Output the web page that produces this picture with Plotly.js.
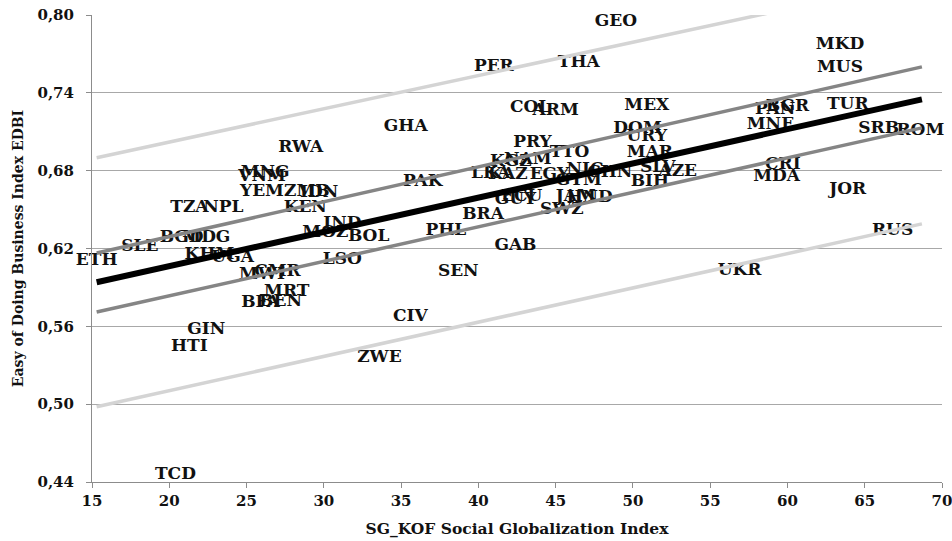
<!DOCTYPE html>
<html>
<head>
<meta charset="utf-8">
<script src="https://cdn.plot.ly/plotly-3.0.1.min.js"></script>
<style>html,body{margin:0;padding:0;background:#fff;}#chart{width:952px;height:541px;}</style>
</head>
<body>
<div id="chart"></div>
<script>
// Country labels (ISO codes) with SG_KOF social globalization (x) and EDBI (y)
const countries = ["GEO","MKD","MUS","PER","THA","COL","ARM","MEX","BGR","PAN","TUR","MNE","DOM","URY","SRB","ROM","GHA","RWA","PRY","MAR","TTO","NAM","KGZ","MNG","VNM","CRI","SLV","AZE","MDA","LKA","KAZ","PAK","EGY","GTM","NIC","CHN","BIH","YEM","ZMB","IDN","KEN","TZA","NPL","GUY","ECU","JAM","HND","SWZ","BRA","IND","MOZ","BOL","PHL","GAB","SEN","LSO","CIV","ZWE","BGD","MDG","SLE","ETH","KHM","UGA","MWI","CMR","MRT","BFA","BEN","GIN","HTI","TCD","UKR","RUS","JOR"];
const socialGlob = [48.9,63.4,63.4,41.0,46.5,43.35,45.0,50.9,60.0,59.2,63.9,58.9,50.3,50.9,65.9,68.6,35.3,28.5,43.5,51.1,45.9,43.2,42.1,26.2,26.0,59.7,51.6,52.9,59.3,40.8,41.9,36.4,44.6,46.5,46.9,48.5,51.1,26.0,28.9,29.7,28.8,21.3,23.5,42.4,42.8,46.3,47.2,45.4,40.3,31.2,30.1,32.9,37.9,42.4,38.7,31.2,35.6,33.6,20.8,22.4,18.1,15.3,22.6,24.1,26.0,27.0,27.6,25.9,27.2,22.4,21.3,20.4,56.9,66.8,63.9];
const edbi = [0.7946,0.7769,0.7591,0.7599,0.763,0.7283,0.726,0.7298,0.729,0.7268,0.7306,0.7152,0.7121,0.706,0.7121,0.7106,0.7136,0.6975,0.7013,0.6936,0.6936,0.6882,0.6867,0.6782,0.6751,0.6843,0.682,0.679,0.675,0.678,0.677,0.6712,0.6766,0.672,0.6805,0.6782,0.6712,0.6635,0.6635,0.6627,0.6512,0.6512,0.6512,0.6574,0.6597,0.6597,0.659,0.6497,0.6458,0.6389,0.6319,0.6288,0.6335,0.6219,0.6018,0.6111,0.5672,0.5355,0.628,0.628,0.6211,0.6103,0.615,0.6127,0.5995,0.6018,0.5864,0.578,0.5787,0.5571,0.544,0.4453,0.6026,0.6335,0.665];

// Regression line and bands (end points)
const lineX = [15.3, 68.7];
const fitY = [0.594, 0.735];
const confUpperY = [0.6165, 0.760];
const confLowerY = [0.571, 0.713];
const predUpperY = [0.690, 0.827];
const predLowerY = [0.498, 0.639];

const xTicks = [15,20,25,30,35,40,45,50,55,60,65,70];
const yTicks = [0.44,0.50,0.56,0.62,0.68,0.74,0.80];

const FONT = "DejaVu Serif, Liberation Serif, serif";

const traces = [
  {x: socialGlob, y: edbi, text: countries, mode: "text", type: "scatter",
   textposition: "middle center", cliponaxis: false,
   textfont: {family: FONT, size: 17, color: "#111", weight: "bold"}, hoverinfo: "text"},
  {x: lineX, y: predUpperY, mode: "lines", type: "scatter", line: {color: "#d4d4d4", width: 3.5}, hoverinfo: "skip"},
  {x: lineX, y: predLowerY, mode: "lines", type: "scatter", line: {color: "#d4d4d4", width: 3.5}, hoverinfo: "skip"},
  {x: lineX, y: confUpperY, mode: "lines", type: "scatter", line: {color: "#858585", width: 3.5}, hoverinfo: "skip"},
  {x: lineX, y: confLowerY, mode: "lines", type: "scatter", line: {color: "#858585", width: 3.5}, hoverinfo: "skip"},
  {x: lineX, y: fitY, mode: "lines", type: "scatter", line: {color: "#000", width: 6}, hoverinfo: "skip"}
];

const layout = {
  width: 952, height: 541,
  margin: {l: 92, r: 10, t: 15, b: 59},
  paper_bgcolor: "#fff", plot_bgcolor: "#fff",
  showlegend: false,
  separators: ", ",
  font: {family: FONT, color: "#111"},
  xaxis: {
    range: [15, 70], tickvals: xTicks, showgrid: false, zeroline: false,
    showline: true, linecolor: "#8c8c8c", linewidth: 1,
    ticks: "outside", ticklen: 5, tickcolor: "#8c8c8c",
    ticklabeloverflow: "allow",
    tickfont: {family: FONT, size: 15, color: "#111", weight: "bold"},
    title: {text: "SG_KOF Social Globalization Index", standoff: 14,
            font: {family: FONT, size: 15.5, color: "#111", weight: "bold"}}
  },
  yaxis: {
    range: [0.44, 0.80], tickvals: yTicks, tickformat: ".2f",
    showgrid: true, gridcolor: "#a8a8a8", gridwidth: 1, zeroline: false,
    showline: true, linecolor: "#8c8c8c", linewidth: 1,
    ticks: "outside", ticklen: 5, tickcolor: "#8c8c8c",
    ticklabelstandoff: 9,
    tickfont: {family: FONT, size: 15, color: "#111", weight: "bold"},
    title: {text: "Easy of Doing Business Index EDBI", standoff: 10,
            font: {family: FONT, size: 14, color: "#111", weight: "bold"}}
  }
};

Plotly.newPlot("chart", traces, layout, {staticPlot: true, displayModeBar: false});
</script>
</body>
</html>
